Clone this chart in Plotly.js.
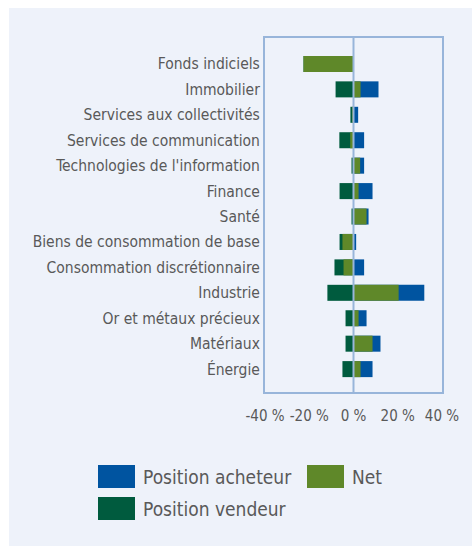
<!DOCTYPE html>
<html>
<head>
<meta charset="utf-8">
<script src="https://cdn.plot.ly/plotly-3.0.1.min.js"></script>
<style>
  html, body { margin: 0; padding: 0; background: #ffffff; }
  #chart { width: 472px; height: 546px; }
</style>
</head>
<body>
<div id="chart"></div>
<script>
// ---- Data (top to bottom) ----
var categories = [
  'Fonds indiciels',
  'Immobilier',
  'Services aux collectivités',
  'Services de communication',
  "Technologies de l'information",
  'Finance',
  'Santé',
  'Biens de consommation de base',
  'Consommation discrétionnaire',
  'Industrie',
  'Or et métaux précieux',
  'Matériaux',
  'Énergie'
];
var acheteur = [0, 11.3, 2.1, 4.8, 4.8, 8.6, 6.8, 1.2, 4.8, 32.0, 5.9, 12.2, 8.6];
var vendeur  = [-22.6, -8.1, -1.4, -6.4, -0.9, -6.3, -0.9, -6.3, -8.6, -11.8, -3.6, -3.6, -5.0];
var net      = [-22.6, 3.2, -0.6, -1.5, 3.0, 2.3, 5.9, -5.0, -4.5, 20.4, 2.3, 8.6, 3.2];

var seriesNames = ['Position acheteur', 'Net', 'Position vendeur'];
var tickVals = [-40, -20, 0, 20, 40];
var tickText = ['-40 %', '-20 %', '0 %', '20 %', '40 %'];

// ---- Styling ----
var colBlue = '#0054a0';
var colNet = '#5f8829';
var colDark = '#005b3e';
var panel = '#eef2fa';
var lineCol = '#98b5da';
var textCol = '#595959';
var fontFam = '"DejaVu Sans Condensed", "Liberation Sans Narrow", "Liberation Sans", sans-serif';

var W = 472, H = 546;
var L = 265, R = 442, T = 38, B = 392;
function px2x(px) { return (px - L) / (R - L); }
function py2y(py) { return (B - py) / (B - T); }

var traces = [
  { type: 'bar', orientation: 'h', y: categories, x: vendeur, name: seriesNames[2],
    marker: { color: colDark }, showlegend: false, hoverinfo: 'x+y' },
  { type: 'bar', orientation: 'h', y: categories, x: acheteur, name: seriesNames[0],
    marker: { color: colBlue }, showlegend: false, hoverinfo: 'x+y' },
  { type: 'bar', orientation: 'h', y: categories, x: net, name: seriesNames[1],
    marker: { color: colNet }, showlegend: false, hoverinfo: 'x+y' }
];

// custom legend
var legendItems = [
  { name: seriesNames[0], color: colBlue, px: 98, py: 465 },
  { name: seriesNames[1], color: colNet, px: 307, py: 465 },
  { name: seriesNames[2], color: colDark, px: 98, py: 497 }
];

var shapes = [
  { type: 'rect', xref: 'paper', yref: 'paper', layer: 'below',
    x0: px2x(9), x1: px2x(W + 5), y0: py2y(8), y1: py2y(H + 5),
    fillcolor: panel, line: { width: 0 } },
  { type: 'line', xref: 'x', yref: 'paper', layer: 'above',
    x0: 0, x1: 0, y0: 0, y1: 1, line: { color: lineCol, width: 2 } }
];
var annotations = [];
legendItems.forEach(function (it) {
  shapes.push({ type: 'rect', xref: 'paper', yref: 'paper',
    x0: px2x(it.px), x1: px2x(it.px + 37), y0: py2y(it.py), y1: py2y(it.py + 23),
    fillcolor: it.color, line: { width: 0 } });
  annotations.push({ xref: 'paper', yref: 'paper', x: px2x(it.px + 43), y: py2y(it.py + 12),
    xanchor: 'left', yanchor: 'middle', showarrow: false, text: it.name,
    font: { family: fontFam, size: 19, color: textCol } });
});

var layout = {
  width: W, height: H, autosize: false,
  margin: { l: L, r: W - R, t: T, b: H - B, pad: 0 },
  paper_bgcolor: '#ffffff',
  plot_bgcolor: 'rgba(0,0,0,0)',
  barmode: 'overlay',
  bargap: 0.37,
  showlegend: false,
  font: { family: fontFam, color: textCol, size: 15.5 },
  xaxis: {
    range: [-40, 40], tickvals: tickVals, ticktext: tickText,
    showgrid: false, zeroline: false,
    showline: true, mirror: true, linecolor: lineCol, linewidth: 2,
    ticks: 'outside', ticklen: 9, tickcolor: 'rgba(0,0,0,0)',
    tickfont: { family: fontFam, size: 15, color: textCol },
    fixedrange: true
  },
  yaxis: {
    type: 'category',
    range: [12.9, -1.02],
    showgrid: false, zeroline: false,
    showline: true, mirror: true, linecolor: lineCol, linewidth: 2,
    ticks: '', ticklen: 0,
    tickfont: { family: fontFam, size: 15.5, color: textCol },
    fixedrange: true
  },
  shapes: shapes,
  annotations: annotations
};

Plotly.newPlot('chart', traces, layout, { displayModeBar: false, staticPlot: true });
</script>
</body>
</html>
